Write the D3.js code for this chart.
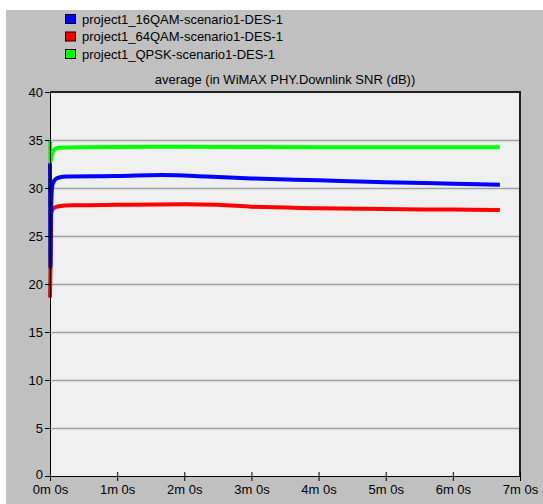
<!DOCTYPE html>
<html>
<head>
<meta charset="utf-8">
<script src="https://cdn.jsdelivr.net/npm/d3@7"></script>
<style>
  body { margin: 0; background: #fff; }
  text { font-family: "Liberation Sans", Arial, sans-serif; }
</style>
</head>
<body>
<div id="chart"></div>
<script>
// series names and colours
const seriesNames = ['project1_16QAM-scenario1-DES-1', 'project1_64QAM-scenario1-DES-1', 'project1_QPSK-scenario1-DES-1'];
const seriesColors = ['#0000ff', '#ff0000', '#00ff00'];

// time in seconds
const t16 = [0, 0.4, 1, 2, 4, 8, 15, 60, 100, 140, 180, 240, 300, 360, 402];
const v16 = [32.6, 21.7, 28, 30.2, 30.8, 31.1, 31.2, 31.25, 31.35, 31.2, 31.0, 30.8, 30.6, 30.45, 30.35];

const t64 = [0, 0.4, 1, 2, 4, 8, 20, 60, 120, 150, 180, 240, 300, 360, 402];
const v64 = [18.6, 21.5, 27.3, 27.7, 27.95, 28.1, 28.2, 28.25, 28.3, 28.25, 28.05, 27.9, 27.8, 27.75, 27.7];

const tQ = [0, 0.3, 2, 4, 7, 30, 120, 240, 402];
const vQ = [35, 32.7, 33.6, 34.0, 34.2, 34.25, 34.3, 34.25, 34.25];

const yTicks = [0, 5, 10, 15, 20, 25, 30, 35, 40];
const xTicks = [0, 60, 120, 180, 240, 300, 360, 420];
const xTickLabels = ['0m 0s', '1m 0s', '2m 0s', '3m 0s', '4m 0s', '5m 0s', '6m 0s', '7m 0s'];
const title = 'average (in WiMAX PHY.Downlink SNR (dB))';

const width = 543, height = 504;
const margin = {top: 92, right: 23, bottom: 28, left: 50};

const svg = d3.select('#chart').append('svg')
  .attr('width', width)
  .attr('height', height);

// grey panel
svg.append('rect')
  .attr('x', 6).attr('y', 10)
  .attr('width', width - 6).attr('height', height - 10)
  .attr('fill', '#c0c0c0');

const x = d3.scaleLinear().domain([0, 420]).range([margin.left, width - margin.right]);
const y = d3.scaleLinear().domain([0, 40]).range([height - margin.bottom, margin.top]);

// plot background
svg.append('rect')
  .attr('x', x(0)).attr('y', y(40))
  .attr('width', x(420) - x(0)).attr('height', y(0) - y(40))
  .attr('fill', '#efefef');

// grid
svg.append('g')
  .selectAll('line')
  .data(yTicks.filter(d => d > 0 && d < 40))
  .enter().append('line')
  .attr('x1', x(0)).attr('x2', x(420))
  .attr('y1', d => y(d) + 0.5).attr('y2', d => y(d) + 0.5)
  .attr('stroke', '#a0a0a0')
  .attr('stroke-width', 1.5);

// lines
const series = [
  {t: t16, v: v16, c: seriesColors[0]},
  {t: t64, v: v64, c: seriesColors[1]},
  {t: tQ, v: vQ, c: seriesColors[2]}
];
const line = d3.line()
  .x(d => x(d[0]))
  .y(d => y(d[1]))
  .curve(d3.curveMonotoneX);

// red first, then blue, then green on top at the start
[series[1], series[0], series[2]].forEach(s => {
  svg.append('path')
    .datum(s.t.map((tt, i) => [tt, s.v[i]]))
    .attr('d', line)
    .attr('fill', 'none')
    .attr('stroke', s.c)
    .attr('stroke-width', 4)
    .attr('stroke-linejoin', 'round');
});

// frame: dark top and right
svg.append('path')
  .attr('d', `M${x(0)},${y(40)}H${x(420)}V${y(0)}`)
  .attr('fill', 'none')
  .attr('stroke', '#202020')
  .attr('stroke-width', 2);

// y axis
const yAxis = d3.axisLeft(y).tickValues(yTicks).tickSize(5).tickPadding(2);
const gy = svg.append('g')
  .attr('transform', `translate(${x(0)},0)`)
  .call(yAxis);
gy.select('.domain').attr('stroke', '#000');
gy.selectAll('text').attr('font-size', 13).attr('fill', '#000')
  .attr('font-family', '"Liberation Sans", Arial, sans-serif');
gy.selectAll('.tick').filter(d => d === 0).select('text').attr('dy', '0.2em');

// x axis
const xAxis = d3.axisBottom(x).tickValues(xTicks)
  .tickFormat((d, i) => xTickLabels[i]).tickSize(5).tickPadding(4);
const gx = svg.append('g')
  .attr('transform', `translate(0,${y(0)})`)
  .call(xAxis);
gx.select('.domain').attr('stroke', '#000');
gx.selectAll('.tick line').attr('y1', -4);
gx.selectAll('text').attr('font-size', 13).attr('fill', '#000')
  .attr('font-family', '"Liberation Sans", Arial, sans-serif');

// title
svg.append('text')
  .attr('x', (x(0) + x(420)) / 2)
  .attr('y', 84)
  .attr('text-anchor', 'middle')
  .attr('font-size', 13)
  .text(title);

// legend
const legend = svg.append('g');
seriesNames.forEach((name, i) => {
  const ly = 19 + i * 17.5;
  legend.append('rect')
    .attr('x', 65.5).attr('y', ly - 4.5)
    .attr('width', 10).attr('height', 9)
    .attr('fill', seriesColors[i])
    .attr('stroke', '#000');
  legend.append('text')
    .attr('x', 82).attr('y', ly + 4.5)
    .attr('font-size', 13)
    .text(name);
});
</script>
</body>
</html>
